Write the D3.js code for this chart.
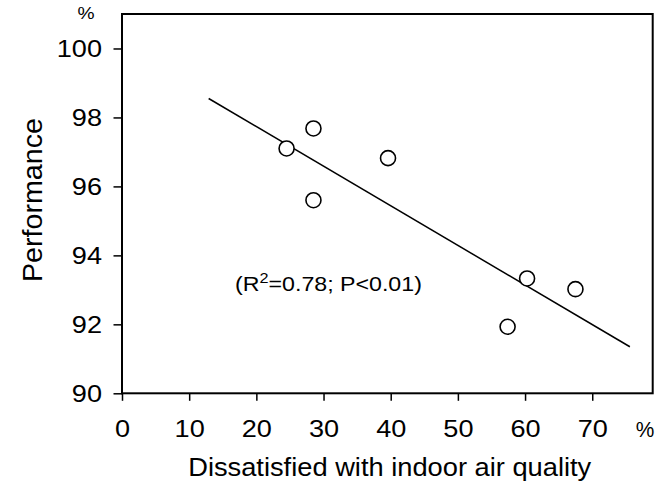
<!DOCTYPE html>
<html>
<head>
<meta charset="utf-8">
<script src="https://cdn.jsdelivr.net/npm/d3@7"></script>
<style>
  html, body { margin: 0; padding: 0; background: #fff; }
  svg { display: block; }
  text { font-family: "Liberation Sans", Arial, sans-serif; fill: #000; }
</style>
</head>
<body>
<svg id="chart" width="669" height="488"></svg>
<script>
// ---- data ----
const dissatisfied = [24.5, 28.5, 28.5, 39.6, 57.4, 60.3, 67.5];
const performance  = [97.1, 97.68, 95.6, 96.82, 91.93, 93.33, 93.02];
const fitX = [12.9, 75.6];
const fitY = [98.55, 91.35];
const xTicks = [0, 10, 20, 30, 40, 50, 60, 70];
const yTicks = [90, 92, 94, 96, 98, 100];
const xTitle = "Dissatisfied with indoor air quality";
const yTitle = "Performance";
const unitLabel = "%";
const annotation = { pre: "(R", sup: "2", post: "=0.78; P<0.01)" };

// ---- layout ----
const pLeft = 122, pRight = 652.7, pTop = 14, pBottom = 393.3;
const SX = 1.13; // horizontal glyph stretch seen in the reference
const svg = d3.select("#chart");

const x = d3.scaleLinear().domain([0, 79]).range([pLeft, pRight]);
const y = d3.scaleLinear().domain([90, 101]).range([pBottom, pTop]);

// frame
svg.append("rect")
  .attr("x", pLeft).attr("y", pTop)
  .attr("width", pRight - pLeft).attr("height", pBottom - pTop)
  .attr("fill", "none").attr("stroke", "#000").attr("stroke-width", 2);

// x axis
const gx = svg.append("g")
  .attr("transform", `translate(0,${pBottom})`)
  .call(d3.axisBottom(x).tickValues(xTicks).tickSize(7.5).tickSizeOuter(0).tickFormat(d3.format("d")));
gx.select(".domain").remove();
gx.selectAll(".tick line").attr("stroke", "#000").attr("stroke-width", 1.5);
gx.selectAll(".tick text")
  .attr("y", 43.7).attr("dy", 0)
  .attr("transform", `scale(${SX},1)`)
  .style("font-size", "24px")
  .style("font-family", '"Liberation Sans", Arial, sans-serif');

// y axis
const gy = svg.append("g")
  .attr("transform", `translate(${pLeft},0)`)
  .call(d3.axisLeft(y).tickValues(yTicks).tickSize(8.5).tickSizeOuter(0).tickFormat(d3.format("d")));
gy.select(".domain").remove();
gy.selectAll(".tick line").attr("stroke", "#000").attr("stroke-width", 1.5);
gy.selectAll(".tick text")
  .attr("x", -20 / SX).attr("dy", "0.35em")
  .attr("transform", `scale(${SX},1)`)
  .style("font-size", "24px")
  .style("font-family", '"Liberation Sans", Arial, sans-serif');

// unit labels
svg.append("text")
  .attr("transform", `translate(86,19) scale(1.2,1)`)
  .attr("text-anchor", "middle")
  .style("font-size", "16px")
  .text(unitLabel);
svg.append("text")
  .attr("transform", `translate(645,437) scale(0.95,1)`)
  .attr("text-anchor", "middle")
  .style("font-size", "22px")
  .text(unitLabel);

// axis titles
svg.append("text")
  .attr("x", (x(10) + x(70)) / 2 - 1).attr("y", 476)
  .attr("text-anchor", "middle")
  .attr("textLength", 403).attr("lengthAdjust", "spacingAndGlyphs")
  .style("font-size", "25px")
  .text(xTitle);

svg.append("text")
  .attr("transform", `translate(41.5,200) rotate(-90)`)
  .attr("text-anchor", "middle")
  .attr("textLength", 164).attr("lengthAdjust", "spacingAndGlyphs")
  .style("font-size", "27px")
  .text(yTitle);

// regression line
const line = d3.line().x(d => x(d[0])).y(d => y(d[1]));
svg.append("path")
  .datum(d3.zip(fitX, fitY))
  .attr("d", line)
  .attr("fill", "none").attr("stroke", "#000").attr("stroke-width", 1.5);

// points
svg.append("g").selectAll("circle")
  .data(d3.zip(dissatisfied, performance))
  .join("circle")
  .attr("cx", d => x(d[0])).attr("cy", d => y(d[1]))
  .attr("r", 7.5)
  .attr("fill", "#fff").attr("stroke", "#000").attr("stroke-width", 1.6);

// annotation
const ann = svg.append("text")
  .attr("transform", `translate(235,291) scale(1.16,1)`)
  .style("font-size", "20px");
ann.append("tspan").text(annotation.pre);
ann.append("tspan").attr("dy", -8).style("font-size", "14px").text(annotation.sup);
ann.append("tspan").attr("dy", 8).text(annotation.post);
</script>
</body>
</html>
